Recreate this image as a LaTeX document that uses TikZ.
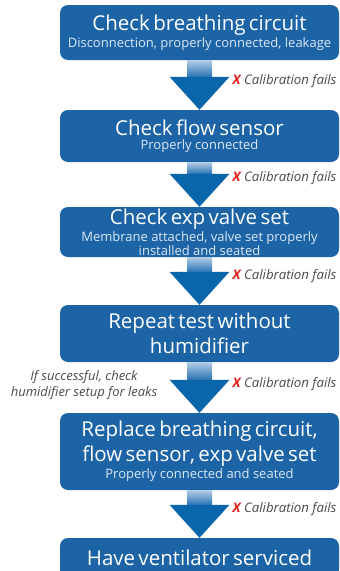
\documentclass[tikz,border=0pt]{standalone}
\usepackage{fontspec}
\setmainfont{Open Sans}
\usepackage{tikz}
\usetikzlibrary{calc,positioning}
\definecolor{BoxBlue}  {HTML}{1D64A6}
\definecolor{HeadBlue} {HTML}{0A66AA}
\definecolor{ShaftTop} {HTML}{B3CDE6}
\definecolor{ShaftBot} {HTML}{2A74B4}
\definecolor{SubWhite} {HTML}{DCE8F4}
\definecolor{NoteGray} {HTML}{4A4A4A}
\definecolor{FailRed}  {HTML}{E2231A}
\tikzset{
  stepbox/.style={rectangle,rounded corners=8pt,fill=BoxBlue,
                  minimum width=279pt,text width=276pt,align=center,
                  inner sep=0pt,text=white},
  failnote/.style={anchor=west,inner sep=0pt,
                   font=\fontsize{13.2}{15}\selectfont\itshape\color{NoteGray}},
}
\newcommand{\ttl}{\fontsize{20.5}{25}\selectfont}
\newcommand{\sub}[1]{\par\vspace{1.5pt}%
  {\fontsize{13}{12.5}\selectfont\color{SubWhite}#1\par}}
\newcommand{\flowarrow}[2]{%
  \shade[top color=ShaftTop,bottom color=ShaftBot]
    ($(#1.south)+(-12.5,0)$) rectangle ($(#2.north)+(12.5,-33)$);
  \fill[HeadBlue] ($(#2.north)+(-30,-33)$) -- ($(#2.north)+(30,-33)$)
    -- (#2.north) -- cycle;
  \node[failnote] at ($(#2.north)+(33,-29)$)
    {{\color{FailRed}\bfseries X} Calibration fails};
}

\begin{document}
\begin{tikzpicture}[x=1pt,y=-1pt]
  \clip (0,0) rectangle (340,571);
  \useasboundingbox (0,0) rectangle (340,571);

  \node[stepbox,minimum height=55pt] (BRC) at (199.5,32.5)
    {\ttl Check breathing circuit
     \sub{Disconnection, properly connected, leakage}};

  \node[stepbox,minimum height=52pt] (FLW) at (199.5,136)
    {\ttl Check flow sensor
     \sub{Properly connected}};

  \node[stepbox,minimum height=50pt] (EXP) at (199.5,232)
    {\ttl Check exp valve set
     \sub{Membrane attached, valve set properly\\installed and seated}};

  \node[stepbox,minimum height=57pt] (HUM) at (199.5,333.5)
    {\ttl Repeat test without\\humidifier\par};

  \node[stepbox,minimum height=77pt] (RPL) at (199.5,451.5)
    {\ttl Replace breathing circuit,\\flow sensor, exp valve set
     \sub{Properly connected and seated}};

  \node[stepbox,minimum height=40pt] (SRV) at (199.5,558)
    {\ttl Have ventilator serviced};

  \flowarrow{BRC}{FLW}
  \flowarrow{FLW}{EXP}
  \flowarrow{EXP}{HUM}
  \flowarrow{HUM}{RPL}
  \flowarrow{RPL}{SRV}

  \node[align=center,inner sep=0pt,
        font=\fontsize{13}{16}\selectfont\itshape\color{NoteGray}]
    (LEAK) at (84,385) {If successful, check\\humidifier setup for leaks};

\end{tikzpicture}
\end{document}
